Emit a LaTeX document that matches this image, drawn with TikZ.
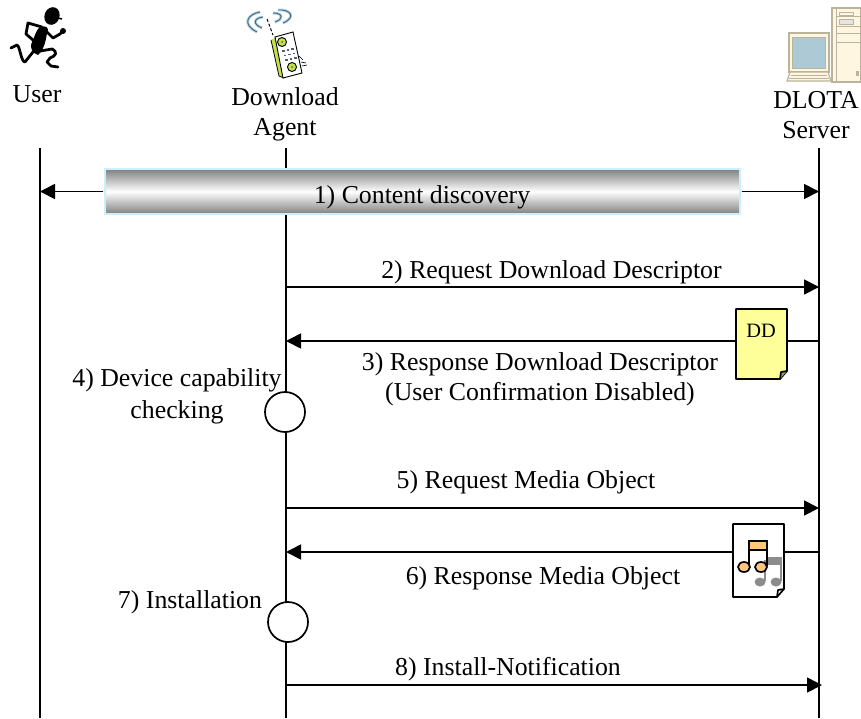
\documentclass[tikz,border=0pt]{standalone}
\usepackage{fontspec}
\setmainfont{Liberation Serif}
\usetikzlibrary{arrows.meta}
\begin{document}
\begin{tikzpicture}[x=1pt,y=-1pt,
line/.style={line width=1.7pt},
msg/.style={line width=1.7pt,-{Triangle[length=15pt,width=15pt]}},
label/.style={inner sep=0pt,align=center,font=\fontsize{25.8}{30}\selectfont},
check/.style={circle,draw=black,line width=1.7pt,fill=white,minimum size=40pt,inner sep=0pt},
discovery/.style={draw=cyan!20,line width=1.2pt,inner sep=0pt,minimum width=635pt,minimum height=45pt,top color=black!50,bottom color=black!50,middle color=white},
doc/.style={draw=black,line width=1.7pt,line join=round},
tower/.style={draw=beigeline,fill=beige,line width=1.2pt},
wave/.style={line width=.9pt,draw=wavedark},
waveout/.style={line width=2.8pt,draw=wavelight},
limb/.style={black,line width=2.8pt,line cap=round,line join=round}]
\definecolor{beige}{HTML}{FFF6E2}
\definecolor{beigeline}{HTML}{B9B49B}
\definecolor{screen}{HTML}{ACC9D5}
\definecolor{docyellow}{HTML}{FFFF99}
\definecolor{noteorange}{HTML}{FFC67F}
\definecolor{phonegreen}{HTML}{C5E04B}
\definecolor{wavedark}{HTML}{52626E}
\definecolor{wavelight}{HTML}{A9D3EE}
\useasboundingbox (0,0) rectangle (861,718);
% life lines
\coordinate (userTop) at (40,148);
\coordinate (userBot) at (40,718);
\coordinate (agentTop) at (286,148);
\coordinate (agentBot) at (286,718);
\coordinate (serverTop) at (819,148);
\coordinate (serverBot) at (819,718);
\draw[line] (userTop) -- (userBot);
\draw[line] (agentTop) -- (agentBot);
\draw[line] (serverTop) -- (serverBot);
% ends of the messages
\coordinate (u1) at (40,191.5);
\coordinate (s1) at (819,191.5);
\coordinate (a2) at (286,287);
\coordinate (s2) at (819,287);
\coordinate (a3) at (286,341);
\coordinate (s3) at (819,341);
\coordinate (a5) at (286,508);
\coordinate (s5) at (819,508);
\coordinate (a6) at (286,552);
\coordinate (s6) at (819,552);
\coordinate (a8) at (286,685);
\coordinate (s8) at (822,685);
\node[discovery] (bar) at (422.5,191.5) {};
\node[label] (msg1) at (422,197) {1) Content discovery};
\draw[msg] (bar.west) ++(-1,0) coordinate (barW) (barW) -- (u1);
\draw[msg] (bar.east) ++(1,0) coordinate (barE) (barE) -- (s1);
\draw[msg] (a2) -- (s2);
\draw[msg] (s3) -- (a3);
\draw[msg] (a5) -- (s5);
\draw[msg] (s6) -- (a6);
\draw[msg] (a8) -- (s8);
\node[check] (check4) at (285,412) {};
\node[check] (check7) at (288,622) {};
\node[label] (userLabel) at (37,94) {User};
\node[label] (agentLabel) at (285,114) {Download\\Agent};
\node[label] (serverLabel) at (816,115) {DLOTA\\Server};
\node[label] (msg2) at (551.5,272) {2) Request Download Descriptor};
\node[label] (msg3) at (540,379) {3) Response Download Descriptor\\(User Confirmation Disabled)};
\node[label] (msg4) at (177,396) {4) Device capability\\[2pt]checking};
\node[label] (msg5) at (526,482) {5) Request Media Object};
\node[label] (msg6) at (543,578) {6) Response Media Object};
\node[label] (msg7) at (190,602) {7) Installation};
\node[label] (msg8) at (508,669) {8) Install-Notification};
% descriptor page
\draw[doc,fill=docyellow] (736,309) -- (787,309) -- (787,371) -- (780,379) -- (736,379) -- cycle;
\draw[doc,fill=docyellow!60!black] (787,371) -- (781,372) -- (780,379);
\node[inner sep=0pt,font=\fontsize{20.4}{24}\selectfont] (dd) at (761,331) {DD};
% media page
\draw[doc,fill=white] (733,524) -- (784,524) -- (784,589) -- (777,597) -- (733,597) -- cycle;
\draw[doc] (784,589) -- (778,590) -- (777,597);
\fill[black!45] (767,557) rectangle (782,565);
\draw[black!45,line width=1.7pt] (765,560) -- (765,581) (781,560) -- (781,581);
\fill[black!45] (760,582) ellipse (5.5 and 4.5) (776,582) ellipse (5.5 and 4.5);
\draw[black,fill=noteorange,line width=1.4pt] (749,541) rectangle (767,550);
\draw[black,line width=2.2pt] (749,541) -- (749,566) (767,541) -- (767,566);
\draw[black,fill=noteorange,line width=1.7pt] (744,567) ellipse (6 and 5) (761,567) ellipse (6 and 5);
% running man
\fill[black,rotate around={-20:(52,16)}] (52,16) ellipse (7.5 and 9);
\draw[black,line width=1.5pt] (54,17) -- (62,19);
\fill[black] (40,27) .. controls (46,25) and (50,28) .. (47,33) .. controls (46,40) and (44,50) .. (38,55) .. controls (33,53) and (29,49) .. (32,42) .. controls (35,36) and (36,30) .. (40,27) -- cycle;
\draw[limb] (42,27) -- (28,23) -- (26,34) -- (33,40);
\draw[limb] (46,31) -- (53,38) -- (60,34) -- (64,30);
\draw[limb] (40,51) -- (52,49) .. controls (58,52) and (56,56) .. (50,58) -- (47,62) -- (51,66) -- (58,67);
\draw[limb] (33,52) -- (25,62) .. controls (21,62) and (20,46) .. (17,45) -- (11,48);
\fill[black] (63,31) circle (3);
% phone
\draw[waveout] (260,12) .. controls (248,14) and (241,24) .. (257,32) (263,17) .. controls (254,18) and (252,24) .. (262,28);
\draw[waveout] (278,10) .. controls (290,9) and (297,17) .. (283,23) (273,13) .. controls (283,13) and (284,19) .. (275,22);
\draw[wave] (260,12) .. controls (248,14) and (241,24) .. (257,32) (263,17) .. controls (254,18) and (252,24) .. (262,28);
\draw[wave] (278,10) .. controls (290,9) and (297,17) .. (283,23) (273,13) .. controls (283,13) and (284,19) .. (275,22);
\draw[black,line width=1pt,densely dashed] (267,19) -- (273,35);
\fill[phonegreen] (271,40) -- (279,76) -- (284,78) -- (278,36) -- cycle;
\draw[black,line width=.8pt] (271,40) -- (279,76) -- (284,78);
\draw[black,fill=white,line width=.9pt] (275,37) -- (293,32) -- (302,73) -- (283,78) -- cycle;
\draw[black,fill=phonegreen,line width=.9pt] (282,42) circle (4.5) (292,67) circle (4.5);
\fill[wavedark] (282,42) circle (1) (292,67) circle (1);
\foreach \keyrow in {0,1,2} {
\fill[wavedark] (282+\keyrow*1.5,50+\keyrow*4.5) rectangle +(2.5,1.5);
\fill[wavedark] (286.5+\keyrow*1.5,49+\keyrow*4.5) rectangle +(2.5,1.5);
\fill[wavedark] (291+\keyrow*1.5,48+\keyrow*4.5) rectangle +(2.5,1.5);
}
\draw[black,line width=.6pt] (299,56) -- (303,60) (301,62) -- (306,63) (302,66) -- (307,65);
% computer
\draw[tower] (832,8) rectangle (861,82);
\draw[beigeline,line width=.8pt] (836,8) -- (836,82) (836,16) -- (861,16) (836,26) -- (861,26) (836,33) -- (861,33) (836,42) -- (861,42);
\draw[beigeline,line width=.9pt] (839,12.5) rectangle (853,15);
\draw[beigeline,line width=.9pt,fill=black!10] (839,19.5) rectangle (853,24);
\fill[beigeline] (856,71) rectangle (859,76);
\draw[tower] (789,33) rectangle (829,72);
\draw[beigeline,fill=screen,line width=.5pt] (792.5,37) rectangle (825,68);
\draw[tower] (790,72) -- (828,72) -- (831,81) -- (787,81) -- cycle;
\draw[beigeline,line width=.8pt] (791,75) -- (827,75) (789,78) -- (829,78);
\end{tikzpicture}
\end{document}
